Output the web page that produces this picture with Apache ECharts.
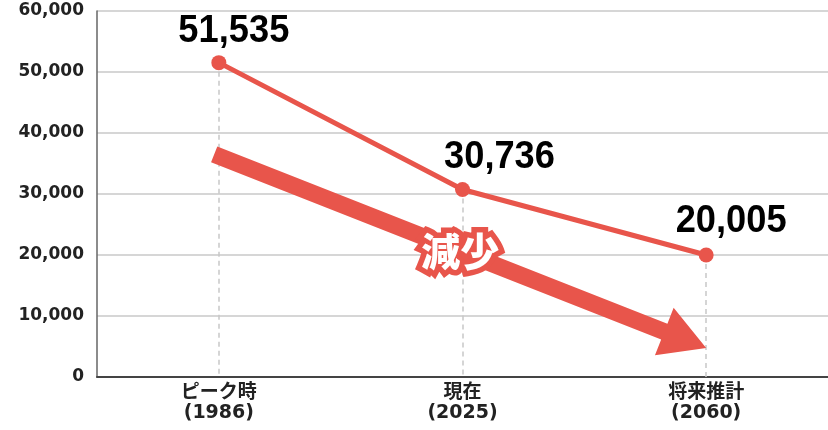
<!DOCTYPE html>
<html>
<head>
<meta charset="utf-8">
<script src="https://cdn.jsdelivr.net/npm/echarts@6/dist/echarts.min.js"></script>
<style>
html,body{margin:0;padding:0;background:#fff;}
#chart{width:828px;height:430px;}
</style>
</head>
<body>
<div id="chart"></div>
<script>
// ---- data ----
var categories = ['ピーク時\n(1986)', '現在\n(2025)', '将来推計\n(2060)'];
var values = [51535, 30736, 20005];
var yTicks = [0, 10000, 20000, 30000, 40000, 50000, 60000];
// decorative trend arrow: [startCategoryIndex, startValue, endCategoryIndex, endValue]
var arrowData = [[0, 36200, 2, 4750]];
var arrowText = '減少';

// ---- styles ----
var RED = '#E8554B';
var labelOffsets = [[15, -31], [37, -32], [25, -34]];

var chart = echarts.init(document.getElementById('chart'), null, {renderer: 'canvas'});

var dropLines = values.map(function (v, i) {
  return [{coord: [i, v]}, {coord: [i, 0]}];
});

var labelData = values.map(function (v, i) { return [i, v]; });

var option = {
  animation: false,
  backgroundColor: '#fff',
  grid: {left: 97, top: 11, width: 733.5, height: 366, containLabel: false},
  xAxis: {
    type: 'category',
    data: categories,
    boundaryGap: true,
    axisLine: {lineStyle: {color: '#444', width: 2}},
    axisTick: {show: false},
    splitLine: {show: false},
    axisLabel: {
      color: '#222',
      fontFamily: '"DejaVu Sans", "Noto Sans CJK JP", sans-serif',
      fontWeight: 'bold',
      fontSize: 19,
      lineHeight: 20,
      margin: 6
    }
  },
  yAxis: {
    type: 'value',
    min: yTicks[0],
    max: yTicks[yTicks.length - 1],
    interval: yTicks[1] - yTicks[0],
    axisLine: {show: true, lineStyle: {color: '#666', width: 1.5}},
    axisTick: {show: false},
    splitLine: {lineStyle: {color: '#c8c8c8', width: 1.5}},
    axisLabel: {
      color: '#222',
      fontFamily: '"DejaVu Sans", sans-serif',
      fontWeight: 'bold',
      fontSize: 17,
      margin: 13,
      formatter: function (v) { return v.toLocaleString('en-US'); }
    }
  },
  series: [
    {
      type: 'custom',
      coordinateSystem: 'cartesian2d',
      encode: {x: [0, 2], y: [1, 3]},
      data: arrowData,
      z: 3,
      silent: true,
      renderItem: function (params, api) {
        var p0 = api.coord([api.value(0), api.value(1)]);
        var p1 = api.coord([api.value(2), api.value(3)]);
        var dx = p1[0] - p0[0], dy = p1[1] - p0[1];
        var len = Math.sqrt(dx * dx + dy * dy);
        var ux = dx / len, uy = dy / len;
        var nx = -uy, ny = ux;
        var back = 5, sw = 8.5, hl = 45, hw = 25.5;
        var s = [p0[0] - ux * back, p0[1] - uy * back];
        var b = [p1[0] - ux * hl, p1[1] - uy * hl];
        var pts = [
          [s[0] + nx * sw, s[1] + ny * sw],
          [b[0] + nx * sw, b[1] + ny * sw],
          [b[0] + nx * hw, b[1] + ny * hw],
          p1,
          [b[0] - nx * hw, b[1] - ny * hw],
          [b[0] - nx * sw, b[1] - ny * sw],
          [s[0] - nx * sw, s[1] - ny * sw]
        ];
        var mx = (s[0] + p1[0]) / 2, my = (s[1] + p1[1]) / 2;
        var font = {
          fontFamily: '"Noto Sans CJK JP", sans-serif',
          fontWeight: 900,
          fontSize: 39
        };
        return {
          type: 'group',
          children: [
            {type: 'polygon', shape: {points: pts}, style: {fill: RED}},
            {type: 'text', style: Object.assign({
              text: arrowText, x: mx, y: my, align: 'center', verticalAlign: 'middle',
              fill: RED, stroke: RED, lineWidth: 11, lineJoin: 'round'
            }, font)},
            {type: 'text', style: Object.assign({
              text: arrowText, x: mx, y: my, align: 'center', verticalAlign: 'middle',
              fill: '#fff'
            }, font)}
          ]
        };
      }
    },
    {
      type: 'line',
      data: values,
      z: 4,
      symbol: 'circle',
      symbolSize: 15,
      itemStyle: {color: RED},
      lineStyle: {color: RED, width: 5},
      label: {show: false},
      markLine: {
        silent: true,
        symbol: 'none',
        z: 1,
        label: {show: false},
        lineStyle: {color: '#c8c8c8', type: [5, 4], width: 1.5},
        data: dropLines
      }
    },
    {
      type: 'custom',
      coordinateSystem: 'cartesian2d',
      encode: {x: 0, y: 1},
      data: labelData,
      z: 5,
      silent: true,
      renderItem: function (params, api) {
        var p = api.coord([api.value(0), api.value(1)]);
        var off = labelOffsets[params.dataIndex];
        var x = p[0] + off[0], y = p[1] + off[1];
        return {
          type: 'text',
          x: x,
          y: y,
          scaleX: 0.93,
          style: {
            text: api.value(1).toLocaleString('en-US'),
            x: 0, y: 0,
            align: 'center',
            verticalAlign: 'middle',
            fill: '#000',
            fontFamily: '"Liberation Sans", Arial, sans-serif',
            fontWeight: 'bold',
            fontSize: 39
          }
        };
      }
    }
  ]
};
chart.setOption(option);
</script>
</body>
</html>
